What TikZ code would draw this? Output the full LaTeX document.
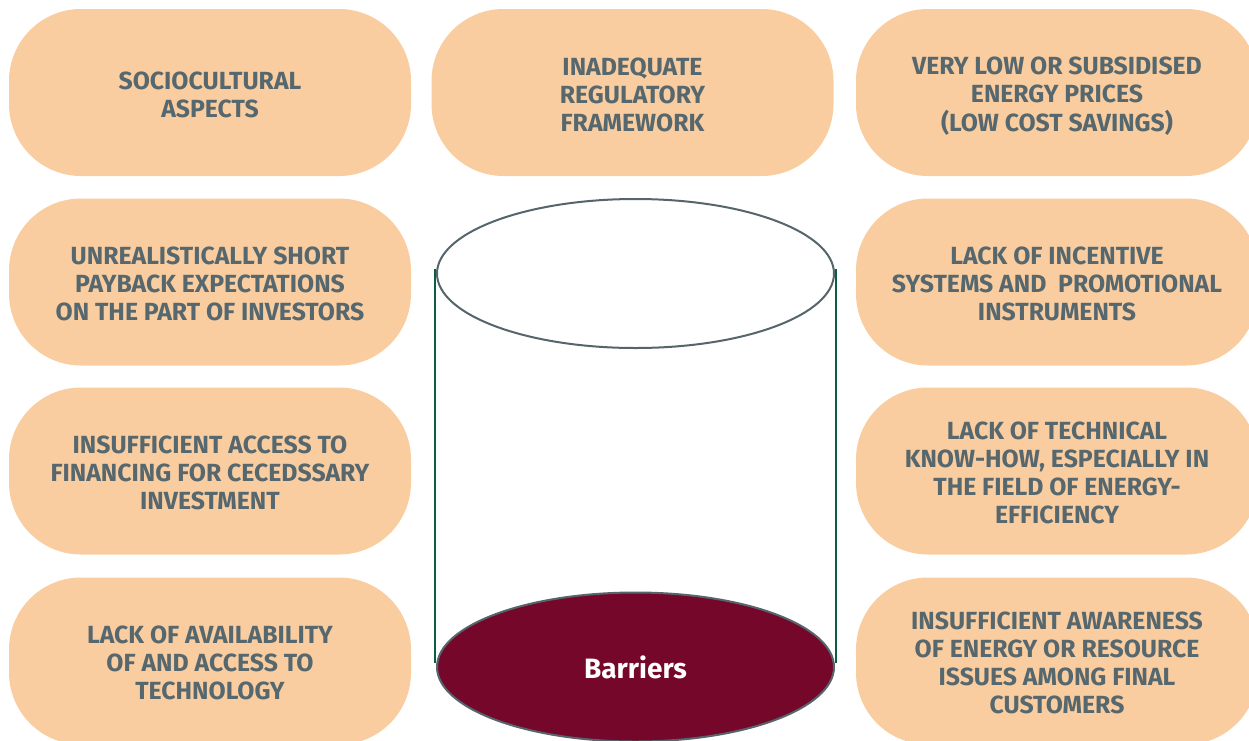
\documentclass[tikz,border=0pt]{standalone}
\usepackage{fontspec}
\setmainfont{Fira Sans}
\usetikzlibrary{shapes.geometric}
\definecolor{peach}{HTML}{F9CDA0}
\definecolor{txtgray}{HTML}{56676E}
\definecolor{rimgray}{HTML}{56656B}
\definecolor{wallgreen}{HTML}{0B5E45}
\definecolor{maroon}{HTML}{75072A}
\newcommand{\btxt}[1]{\raisebox{-5pt}[\height][\depth]{\begin{tabular}{@{}c@{}}#1\end{tabular}}}
\begin{document}
\begin{tikzpicture}[x=1pt,y=-1pt,
  barrier/.style={draw=none,fill=peach,rounded corners=72pt,minimum width=402pt,minimum height=167pt,
    inner sep=0pt,align=center,text=txtgray,font=\fontsize{24.8}{28}\selectfont\bfseries},
  rim/.style={ellipse,draw=rimgray,line width=2pt,minimum width=397pt,minimum height=149pt,inner sep=0pt},
  wall/.style={draw=wallgreen,line width=2pt}]
\useasboundingbox (0,0) rectangle (1249,740);
\clip (0,0) rectangle (1249,740);
% left column
\node[barrier] (l1) at (210,92.5) {\btxt{SOCIOCULTURAL\\ASPECTS}};
\node[barrier] (l2) at (210,282) {\btxt{UNREALISTICALLY SHORT\\PAYBACK EXPECTATIONS\\ON THE PART OF INVESTORS}};
\node[barrier] (l3) at (210,471) {\btxt{INSUFFICIENT ACCESS TO\\FINANCING FOR CECEDSSARY\\INVESTMENT}};
\node[barrier] (l4) at (210,661) {\btxt{LACK OF AVAILABILITY\\OF AND ACCESS TO\\TECHNOLOGY}};
% middle
\node[barrier] (m1) at (632.5,92.5) {\btxt{INADEQUATE\\REGULATORY\\FRAMEWORK}};
% right column
\node[barrier] (r1) at (1057,92.5) {\btxt{VERY LOW OR SUBSIDISED\\ENERGY PRICES\\(LOW COST SAVINGS)}};
\node[barrier] (r2) at (1057,282) {\btxt{LACK OF INCENTIVE\\SYSTEMS AND\ \ PROMOTIONAL\\INSTRUMENTS}};
\node[barrier] (r3) at (1057,471) {\btxt{LACK OF TECHNICAL\\KNOW-HOW, ESPECIALLY IN\\THE FIELD OF ENERGY-\\EFFICIENCY}};
\node[barrier] (r4) at (1057,661) {\btxt{INSUFFICIENT AWARENESS\\OF ENERGY OR RESOURCE\\ISSUES AMONG FINAL\\CUSTOMERS}};
% cylinder
\node[rim,fill=white] (top) at (635.5,273.5) {};
\node[rim,fill=maroon,text=white,font=\fontsize{28}{34}\selectfont\bfseries] (base) at (635.5,667) {Barriers};
\draw[wall] ([shift={(-1,-5)}]top.west) -- ([shift={(-1,-4)}]base.west);
\draw[wall] ([shift={(1,-5)}]top.east) -- ([shift={(1,-4)}]base.east);
\end{tikzpicture}
\end{document}
